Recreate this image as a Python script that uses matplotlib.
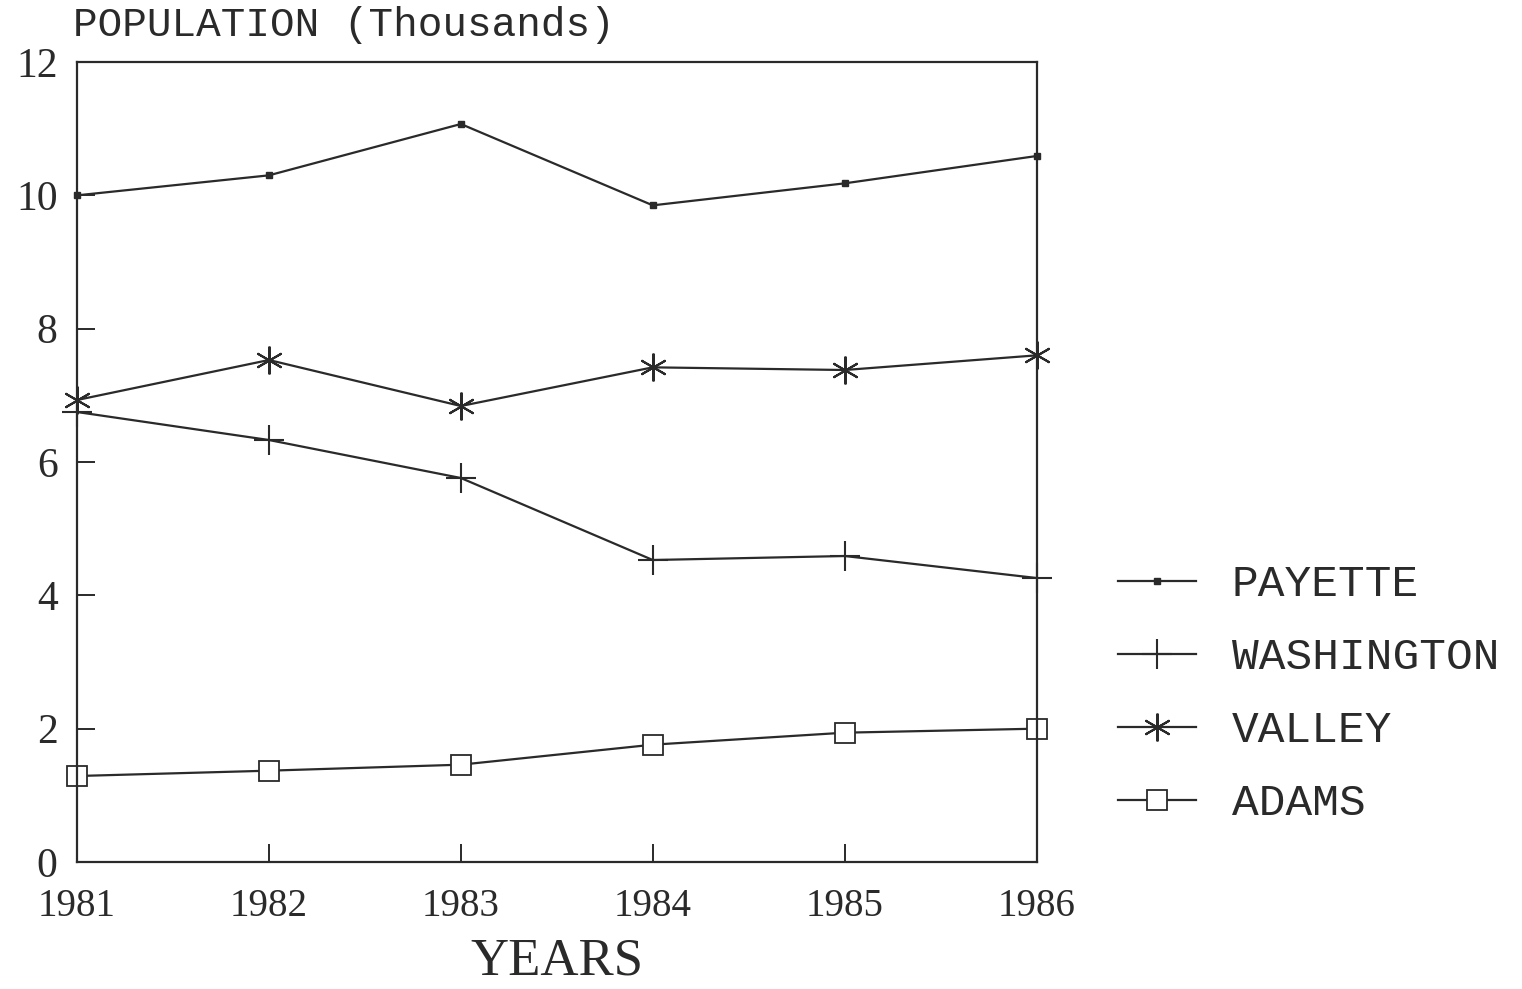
import numpy as np
import matplotlib
matplotlib.use('Agg')
from matplotlib import pyplot as plt

years = [1981, 1982, 1983, 1984, 1985, 1986]
payette = [10.0, 10.3, 11.07, 9.85, 10.18, 10.59]
washington = [6.75, 6.33, 5.76, 4.53, 4.59, 4.26]
valley = [6.93, 7.53, 6.84, 7.42, 7.38, 7.6]
adams = [1.29, 1.37, 1.46, 1.76, 1.94, 2.0]
yticks = [0, 2, 4, 6, 8, 10, 12]

plt.rcParams['font.family'] = ['Liberation Serif', 'DejaVu Serif']
mono = ['Liberation Mono', 'DejaVu Sans Mono']
ink = '#2a2a2a'

fig = plt.figure(figsize=(15.22, 9.89), dpi=100)
ax = fig.add_axes([0.0506, 0.1284, 0.6305, 0.8089])

lw = 1.6
ax.plot(years, payette, color=ink, lw=lw, marker='s', ms=5, mfc=ink, mec=ink,
        label='PAYETTE', clip_on=False)
ax.plot(years, washington, color=ink, lw=lw, marker='+', ms=22, mew=1.5,
        label='WASHINGTON', clip_on=False)
ax.plot(years, valley, color=ink, lw=lw, marker=(6, 2, 0), ms=20, mew=1.5,
        label='VALLEY', clip_on=False)
ax.plot(years, adams, color=ink, lw=lw, marker='s', ms=15, mfc='white', mec=ink,
        mew=1.3, label='ADAMS', clip_on=False)

ax.set_xlim(1981, 1986)
ax.set_ylim(0, 12)
ax.set_xticks(years)
ax.set_yticks(yticks)
ax.set_xticklabels([str(y) for y in years], fontsize=28)
ax.set_yticklabels([str(v) for v in yticks], fontsize=30)
ax.tick_params(axis='both', direction='in', length=13, width=1.4, color=ink, labelcolor=ink)
ax.tick_params(axis='x', pad=19)
ax.tick_params(axis='y', pad=14)
for s in ax.spines.values():
    s.set_linewidth(1.6)
    s.set_color(ink)

ax.set_xlabel('YEARS', fontsize=38, color=ink, labelpad=9)
fig.text(0.048, 0.975, 'POPULATION (Thousands)', fontsize=29.5, family=mono,
         color=ink, ha='left', va='center')

leg = ax.legend(loc='center left', bbox_to_anchor=(0.7346, 0.298),
                bbox_transform=fig.transFigure, frameon=False, borderpad=0,
                borderaxespad=0, prop={'family': mono, 'size': 32},
                handlelength=1.76, handletextpad=0.8, labelspacing=0.72,
                labelcolor=ink)

fig.savefig('out.png', dpi=100, facecolor='white')
